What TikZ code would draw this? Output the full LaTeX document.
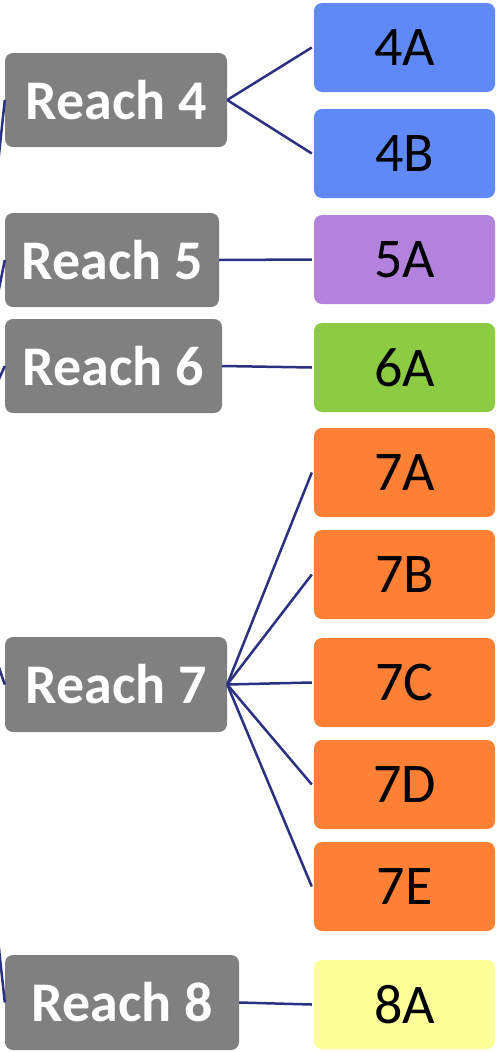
\documentclass[tikz,border=0pt]{standalone}
\usepackage{fontspec}
\setmainfont{Carlito}
\definecolor{reachgray}{RGB}{128,128,128}
\definecolor{linkblue}{RGB}{43,49,130}
\definecolor{cblue}{RGB}{94,137,246}
\definecolor{cpurple}{RGB}{178,130,220}
\definecolor{cgreen}{RGB}{141,203,69}
\definecolor{corange}{RGB}{254,128,52}
\definecolor{cyellow}{RGB}{255,255,153}
\begin{document}
\begin{tikzpicture}[x=1pt,y=-1pt,
  reach/.style={rectangle,rounded corners=8pt,fill=reachgray,text=white,
    font=\fontsize{56}{60}\selectfont\bfseries,inner sep=0pt,minimum height=94pt},
  leaf/.style={rectangle,rounded corners=8pt,fill=#1,text=black,
    font=\fontsize{56}{60}\selectfont,inner sep=0pt,minimum width=181pt,minimum height=89pt},
  link/.style={draw=linkblue,line width=2.5pt}]
\clip (0,0) rectangle (497,1052);
\fill[white] (0,0) rectangle (497,1052);
% reach nodes
\node[reach,minimum width=222pt] (r4) at (116,100) {Reach 4};
\node[reach,minimum width=214pt] (r5) at (112,260) {Reach 5};
\node[reach,minimum width=217pt] (r6) at (113.5,366) {Reach 6};
\node[reach,minimum width=222pt,minimum height=95pt] (r7) at (116,684.5) {Reach 7};
\node[reach,minimum width=234pt,minimum height=95pt] (r8) at (122,1002.5) {Reach 8};
% leaves
\node[leaf=cblue] (a4) at (404.5,47.5) {4A};
\node[leaf=cblue] (b4) at (404.5,153.5) {4B};
\node[leaf=cpurple] (a5) at (404.5,259.5) {5A};
\node[leaf=cgreen] (a6) at (404.5,367.5) {6A};
\node[leaf=corange] (a7) at (404.5,472.5) {7A};
\node[leaf=corange] (b7) at (404.5,574.5) {7B};
\node[leaf=corange] (c7) at (404.5,682.5) {7C};
\node[leaf=corange] (d7) at (404.5,784.5) {7D};
\node[leaf=corange] (e7) at (404.5,886.5) {7E};
\node[leaf=cyellow] (a8) at (404.5,1004.5) {8A};
% off-canvas parent ends
\coordinate (p4) at (-5,192);
\coordinate (p5) at (-5,309);
\coordinate (p6) at (-5,388);
\coordinate (p7) at (-5,656);
\coordinate (p8) at (-5,912);
\draw[link] (p4) -- (r4.west);
\draw[link] (p5) -- (r5.west);
\draw[link] (p6) -- (r6.west);
\draw[link] (p7) -- (r7.west);
\draw[link] (p8) -- (r8.west);
% children links
\draw[link] (r4.east) -- ([xshift=-2pt]a4.west);
\draw[link] (r4.east) -- ([xshift=-2pt]b4.west);
\draw[link] (r5.east) -- ([xshift=-2pt]a5.west);
\draw[link] (r6.east) -- ([xshift=-2pt]a6.west);
\draw[link] (r7.east) -- ([xshift=-2pt]a7.west);
\draw[link] (r7.east) -- ([xshift=-2pt]b7.west);
\draw[link] (r7.east) -- ([xshift=-2pt]c7.west);
\draw[link] (r7.east) -- ([xshift=-2pt]d7.west);
\draw[link] (r7.east) -- ([xshift=-2pt]e7.west);
\draw[link] (r8.east) -- ([xshift=-2pt]a8.west);
\end{tikzpicture}
\end{document}
